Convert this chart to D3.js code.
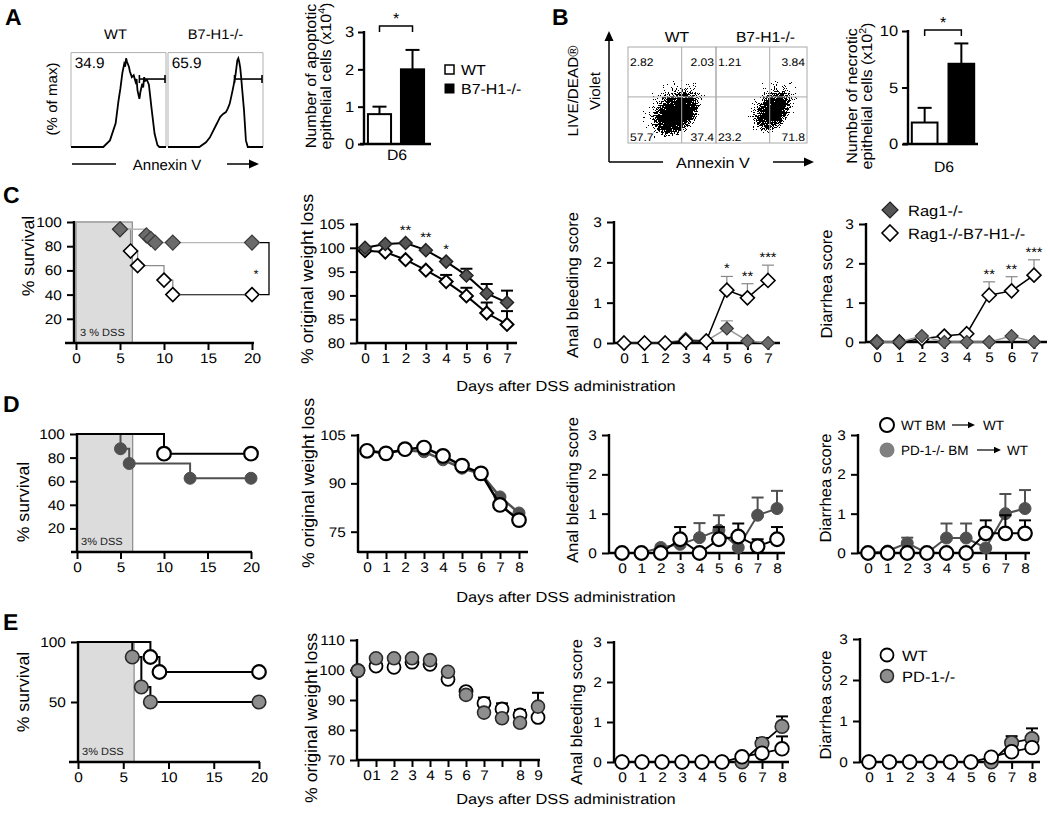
<!DOCTYPE html>
<html><head><meta charset="utf-8">
<script src="https://cdn.jsdelivr.net/npm/d3@7"></script>
<style>body{margin:0;background:#fff} svg{display:block} text{font-family:"Liberation Sans",Arial,Helvetica,sans-serif;text-rendering:geometricPrecision}</style>
</head><body><svg id="c" width="1050" height="817"></svg>
<script>
// ================= DATA =================
// Panel A – Annexin V histograms (position 0-100, % of max)
const histWT = [[0,0],[34,0],[41,7],[47,25],[50,49],[52,62],[54,78],[56,88],[57,85],[58,94],[59,90],[61,85],[62,80],[64,74],[66,76],[68,69],[69,72],[70,60],[72,51],[73,58],[75,67],[76,63],[77,74],[78,70],[80,71],[82,66],[83,57],[85,39],[88,14],[91,2],[93,0],[100,0]];
const histB7 = [[0,0],[33,0],[40,5],[44,10],[47,16],[50,22],[53,28],[55,32],[56,33],[58,35],[61,37],[63,41],[65,46],[68,60],[70,70],[71,76],[73,92],[74,94],[75,90],[76,84],[77,74],[78,62],[80,39],[82,7],[84,0],[100,0]];
const histGroups = ["WT", "B7-H1-/-"];
const histPct = ["34.9", "65.9"];
const gateStart = [72, 70];   // Annexin V gate start
const gateLevel = 72;          // gate drawn at this % of max
// Panel A – apoptotic cells (x10^4)
const barGroups = ["WT", "B7-H1-/-"];
const apoptoticMean = [0.8, 2.0];
const apoptoticUpper = [1.0, 2.52];
const apoptoticTicks = [0, 1, 2, 3];
// Panel B – flow quadrants
const quadWT = ["2.82", "2.03", "57.7", "37.4"];
const quadB7 = ["1.21", "3.84", "23.2", "71.8"];
const quadGate = [[61, 48], [59, 48]];        // [annexin, live/dead] gate per plot
// cell clouds: [annexin, live/dead, spreadX, spreadY, angle, density]
const cloudWT = [[50, 38, 50, 33, 40, 0.5], [55, 31, 30, 19, 42, 0.8], [57, 28, 18, 11, 42, 1]];
const cloudB7 = [[60, 40, 44, 28, 55, 0.5], [63, 34, 25, 15, 55, 0.8], [64, 31, 15, 9, 55, 1]];
// Panel B – necrotic cells (x10^2)
const necroticMean = [1.9, 7.1];
const necroticUpper = [3.2, 8.9];
const necroticTicks = [0, 5, 10];

// Panel C – Rag1-/- vs Rag1-/-B7-H1-/-
const cSurvRag = [[0,100],[5,94],[8,89],[8.5,86],[9,83],[11,83],[20,83]];
const cSurvB7  = [[0,100],[5,94],[6.2,76],[7,64],[10,52],[11,40],[20,40]];
const cDss = 6.4;
const days7 = [0,1,2,3,4,5,6,7];
const cWtRag = [100, 100.8, 101.0, 99.5, 97.1, 94.2, 90.4, 88.5];
const cWtRagErr = [null,null,null,null,null,95.6,92.4,91.0];
const cWtB7 = [99.4, 99.1, 97.5, 95.3, 92.9, 89.9, 86.3, 83.9];
const cWtB7Err = [null,null,null,null,94.3,91.6,88.5,86.7];
const cWtStars = ["","","**","**","*","","",""];
const cAnalRag = [0,0,0,0.1,0.05,0.36,0.05,0];
const cAnalRagErr = [null,null,null,null,null,0.55,null,null];
const cAnalB7 = [0,0,0,0.05,0.05,1.31,1.12,1.55];
const cAnalB7Err = [null,null,null,null,null,1.65,1.47,1.93];
const cAnalStars = ["","","","","","*","**","***"];
const cDiaRag = [0,0,0.15,0,0,0,0.15,0];
const cDiaB7 = [0,0,0.08,0.15,0.21,1.19,1.30,1.70];
const cDiaB7Err = [null,null,null,null,null,1.53,1.66,2.09];
const cDiaStars = ["","","","","","**","**","***"];

// Panel D – WT BM vs PD-1-/- BM -> WT
const dSurvWT = [[0,100],[10,83.3],[20,83.3]];
const dSurvPD = [[0,100],[5,87.5],[6,75],[13,62.5],[20,62.5]];
const dDss = 6.4;
const days8 = [0,1,2,3,4,5,6,7,8];
const dWtWT = [100.1, 99.3, 100.6, 101.1, 98.5, 95.5, 93.1, 83.3, 78.6];
const dWtPD = [100.0, 99.6, 100.3, 99.8, 97.3, 94.7, 93.0, 85.8, 80.8];
const dAnalWT = [0,0,0,0.35,0,0.35,0.42,0.17,0.35];
const dAnalWTErr = [null,null,null,0.66,null,0.66,0.75,0.35,0.66];
const dAnalPD = [0,0,0.14,0.22,0.39,0.58,0.14,0.96,1.13];
const dAnalPDErr = [null,null,null,null,0.76,0.96,null,1.41,1.58];
const dDiaWT = [0,0,0,0,0,0,0.5,0.5,0.5];
const dDiaWTErr = [null,null,null,null,null,null,0.83,0.96,0.83];
const dDiaPD = [0,0.05,0.25,0,0.38,0.38,0.13,1.0,1.13];
const dDiaPDErr = [null,null,0.39,null,0.75,0.75,null,1.5,1.6];

// Panel E – WT vs PD-1-/-
const eSurvWT = [[0,100],[8,87.5],[9,75],[20,75]];
const eSurvPD = [[0,100],[6,87.5],[7,62.5],[8,50],[20,50]];
const eDss = 6.2;
const eWtIdx = [0,1,2,3,4,5,6,7,8,9,10];
const eWtTickLabels = ["0","1","2","3","4","5","6","7","8","9"];
const eWtTickPos = [0.5,1,2,3,4,5,6,7,9,10];
const eWtWT = [99.8, 101.3, 100.9, 102.6, 101.9, 96.9, 92.8, 88.9, 87.0, 85.0, 84.2];
const eWtWTErr = [null,null,null,null,null,null,null,90.8,88.9,86.7,null];
const eWtPD = [99.8, 103.9, 103.9, 103.9, 103.3, 99.4, 91.7, 85.8, 83.9, 82.4, 87.8];
const eWtPDErr = [null,null,null,null,null,null,null,null,null,null,92.4];
const eAnalWT = [0,0,0,0,0,0,0.13,0.22,0.33];
const eAnalWTErr = [null,null,null,null,null,null,null,null,0.64];
const eAnalPD = [0,0,0,0,0,0,0,0.46,0.89];
const eAnalPDErr = [null,null,null,null,null,null,null,0.6,1.14];
const eDiaWT = [0,0,0,0,0,0,0.12,0.25,0.35];
const eDiaPD = [0,0,0,0,0,0,0,0.47,0.57];
const eDiaPDErr = [null,null,null,null,null,null,null,0.63,0.82];

// ================= DRAWING =================
const FONT = '"Liberation Sans", Arial, Helvetica, sans-serif';
const svg = d3.select("#c");
const defs = svg.append("defs");

function txt(g, x, y, s, o = {}) {
  return g.append("text")
    .attr("transform", `translate(${x},${y})${o.rot ? ` rotate(${o.rot})` : ""} scale(${o.sx ?? 1.1},1)`)
    .attr("font-size", o.size ?? 14)
    .attr("text-anchor", o.anchor ?? "start")
    .attr("font-weight", o.weight ?? "normal")
    .attr("fill", o.fill ?? "#000")
    .text(s);
}
function line(g, x1, y1, x2, y2, c = "#000", w = 2) {
  return g.append("line").attr("x1", x1).attr("y1", y1).attr("x2", x2).attr("y2", y2)
    .attr("stroke", c).attr("stroke-width", w);
}
function arrowHead(g, x, y, dir, s = 1) {
  const p = dir === "right" ? `M${x},${y} L${x-10*s},${y-4.5*s} L${x-10*s},${y+4.5*s} Z` : `M${x},${y} L${x-4.5},${y+10} L${x+4.5},${y+10} Z`;
  g.append("path").attr("d", p).attr("fill", "#000");
}
function styleAxis(a, size = 14) {
  a.select(".domain").remove();
  a.selectAll(".tick line").attr("stroke", "#000").attr("stroke-width", 2);
  a.selectAll(".tick text").attr("font-size", size).attr("font-family", FONT).attr("fill", "#000")
    .attr("transform", "scale(1.1,1)");
}
function title(g, x, y, s, size = 16) {
  txt(g, x, y, s, { rot: -90, anchor: "middle", size, sx: 1.04 });
}

function panel(o) {
  const g = svg.append("g");
  const x = d3.scaleLinear().domain(o.xdom).range(o.xr);
  const y = d3.scaleLinear().domain(o.ydom).range(o.yr);
  return { g, x, y, o };
}
function axes(p) {
  const { g, x, y, o } = p;
  const ya = g.append("g").attr("transform", `translate(${o.yx},0)`)
    .call(d3.axisLeft(y).tickValues(o.yTicks).tickSize(7).tickPadding(4).tickSizeOuter(0).tickFormat(d3.format("d")));
  styleAxis(ya);
  const xa = g.append("g").attr("transform", `translate(0,${o.xy})`)
    .call(d3.axisBottom(x).tickValues(o.xTicks).tickSize(7).tickPadding(3).tickSizeOuter(0)
      .tickFormat(o.xFmt || d3.format("d")));
  styleAxis(xa);
  line(g, o.yx, y.range()[1] - 1, o.yx, o.xy + 1, "#000", 2.4);
  line(g, o.xl[0], o.xy, o.xl[1], o.xy, "#000", 2.4);
}
function diamondPath(cx, cy, r) { return `M${cx},${cy-r} L${cx+r},${cy} L${cx},${cy+r} L${cx-r},${cy} Z`; }
function markers(p, pts, m) {
  pts.forEach(([a, b]) => {
    const cx = p.x(a), cy = p.y(b);
    if (m.shape === "diamond") {
      p.g.append("path").attr("d", diamondPath(cx, cy, m.r)).attr("fill", m.fill).attr("stroke", m.stroke).attr("stroke-width", m.sw);
    } else {
      p.g.append("circle").attr("cx", cx).attr("cy", cy).attr("r", m.r).attr("fill", m.fill).attr("stroke", m.stroke).attr("stroke-width", m.sw);
    }
  });
}
function series(p, xs, vals, errs, m) {
  const pts = xs.map((d, i) => [d, vals[i]]);
  if (m.line) p.g.append("path").datum(pts).attr("d", d3.line().x(d => p.x(d[0])).y(d => p.y(d[1])))
    .attr("fill", "none").attr("stroke", m.line).attr("stroke-width", m.lw ?? 2);
  if (errs) errs.forEach((e, i) => {
    if (e == null) return;
    const cx = p.x(xs[i]);
    line(p.g, cx, p.y(vals[i]), cx, p.y(e), m.ec ?? "#000", m.ew ?? 2);
    line(p.g, cx - (m.cap ?? 6), p.y(e), cx + (m.cap ?? 6), p.y(e), m.ec ?? "#000", m.ew ?? 2);
  });
  markers(p, pts, m);
}
function survival(p, pts, m) {
  p.g.append("path").datum(pts).attr("d", d3.line().curve(d3.curveStepAfter).x(d => p.x(d[0])).y(d => p.y(d[1])))
    .attr("fill", "none").attr("stroke", m.line).attr("stroke-width", m.lw ?? 2);
  markers(p, pts.slice(1), m);
}
function dssBox(p, dss, label) {
  p.g.append("rect").attr("x", p.x(0)).attr("y", p.y(100)).attr("width", p.x(dss) - p.x(0))
    .attr("height", p.y(0) - p.y(100)).attr("fill", "#dcdcdc").attr("stroke", "#8a8a8a").attr("stroke-width", 1.2);
  txt(p.g, p.x(0) + 4, p.y(0) - 7, label, { size: 10.5, sx: 1.05, fill: "#222" });
}
function stars(p, xs, labels, topVals, off, size = 14) {
  labels.forEach((s, i) => { if (s) txt(p.g, p.x(xs[i]), p.y(topVals[i]) - off, s, { anchor: "middle", size, sx: 1.05 }); });
}
const maxOf = (...arrs) => arrs[0].map((_, i) => Math.max(...arrs.map(a => a[i] ?? -Infinity)));
const rowTitle = (y) => txt(svg, 566, y, "Days after DSS administration", { anchor: "middle", size: 14.5, sx: 1.13 });

// ---------- Panel letters ----------
[["A", 5, 25], ["B", 552, 25], ["C", 3, 203], ["D", 3, 412], ["E", 3, 630]].forEach(([l, x, y]) =>
  txt(svg, x, y, l, { size: 23, weight: "bold", sx: 1 }));

// ---------- Panel A histograms ----------
{
  const g = svg.append("g");
  const boxes = [[71, 166], [168, 263]];
  const hy = d3.scaleLinear().domain([0, 100]).range([147, 52.6]);
  [histWT, histB7].forEach((h, k) => {
    const hx = d3.scaleLinear().domain([0, 100]).range(boxes[k]);
    g.append("path").attr("d", `M${hx(0)},${hy(0)} V${hy(100)} H${hx(100)} V${hy(0)}`).attr("fill", "none").attr("stroke", "#b0b0b0").attr("stroke-width", 1);
    g.append("path").datum(h).attr("d", d3.line().x(d => hx(d[0])).y(d => hy(d[1]))).attr("fill", "none").attr("stroke", "#000").attr("stroke-width", 1.8);
    const gx0 = hx(gateStart[k]), gx1 = hx(100) - 1, gy = hy(gateLevel);
    line(g, gx0, gy, gx1, gy, "#000", 1.6);
    line(g, gx0, gy - 4, gx0, gy + 4, "#000", 1.6);
    line(g, gx1, gy - 4, gx1, gy + 4, "#000", 1.6);
    txt(g, hx(4), 68, histPct[k], { size: 15, sx: 1.02 });
    txt(g, (boxes[k][0] + boxes[k][1]) / 2 + (k ? 0 : -3), 39, histGroups[k], { anchor: "middle", size: 14, sx: 1.05 });
  });
  title(g, 57, 99, "(% of max)", 14.5);
  line(g, 72, 164, 116, 164, "#000", 1.5);
  txt(g, 167, 170, "Annexin V", { anchor: "middle", size: 15, sx: 1.0 });
  line(g, 227, 164, 250, 164, "#000", 1.5);
  arrowHead(g, 259, 164, "right");
}

// ---------- bar chart helper ----------
function barChart(o) {
  const g = svg.append("g");
  const x = d3.scaleBand().domain(barGroups).range(o.xr).paddingInner(0.3).paddingOuter(0.24);
  const y = d3.scaleLinear().domain(o.ydom).range([o.y0, o.y1]);
  const ya = g.append("g").attr("transform", `translate(${o.yx},0)`)
    .call(d3.axisLeft(y).tickValues(o.ticks).tickSize(6).tickPadding(3).tickSizeOuter(0).tickFormat(d3.format("d")));
  styleAxis(ya, 15);
  barGroups.forEach((grp, i) => {
    const cx = x(grp) + x.bandwidth() / 2;
    line(g, cx, y(o.mean[i]), cx, y(o.upper[i]), "#000", 2);
    line(g, cx - 7, y(o.upper[i]), cx + 7, y(o.upper[i]), "#000", 2);
    g.append("rect").attr("x", x(grp)).attr("y", y(o.mean[i])).attr("width", x.bandwidth())
      .attr("height", y(0) - y(o.mean[i])).attr("fill", i ? "#000" : "#fff").attr("stroke", "#000").attr("stroke-width", 2);
  });
  line(g, o.yx, y(o.ydom[1]) - 1, o.yx, o.y0 + 1, "#000", 2.4);
  line(g, o.xl[0], o.y0, o.xl[1], o.y0, "#000", 2.4);
  const c0 = x(barGroups[0]) + x.bandwidth() / 2, c1 = x(barGroups[1]) + x.bandwidth() / 2;
  g.append("path").attr("d", `M${c0},${o.brY + 6} V${o.brY} H${c1} V${o.brY + 6}`).attr("fill", "none").attr("stroke", "#000").attr("stroke-width", 1.5);
  txt(g, (c0 + c1) / 2, o.brY - 2, "*", { anchor: "middle", size: 16, sx: 1 });
  txt(g, (c0 + c1) / 2 + 1, o.d6Y, "D6", { anchor: "middle", size: 15, sx: 1.05 });
  txt(g, o.tx1, o.tcy, o.t1, { rot: -90, anchor: "middle", size: 15, sx: 1.07 });
  const t2 = txt(g, o.tx2, o.tcy, "", { rot: -90, anchor: "middle", size: 15, sx: 1.07 });
  t2.append("tspan").text(o.t2);
  t2.append("tspan").attr("font-size", 10).attr("dy", -6).text(o.sup);
  t2.append("tspan").attr("dy", 6).text(")");
  return g;
}
barChart({ xr: [360, 432], ydom: [0, 3], y0: 144, y1: 32, yx: 364, ticks: apoptoticTicks, mean: apoptoticMean, upper: apoptoticUpper,
  xl: [360, 431], brY: 26, d6Y: 160, tx1: 316, tx2: 331, tcy: 76, t1: "Number of apoptotic", t2: "epithelial cells (x10", sup: "4" });
{
  const g = svg.append("g");
  g.append("rect").attr("x", 445).attr("y", 65).attr("width", 9).attr("height", 9).attr("fill", "#fff").attr("stroke", "#000").attr("stroke-width", 1.5);
  txt(g, 461, 75, barGroups[0], { size: 14.5, sx: 1.1 });
  g.append("rect").attr("x", 444.5).attr("y", 83.5).attr("width", 10).attr("height", 10).attr("fill", "#000");
  txt(g, 461, 94, barGroups[1], { size: 14.5, sx: 1.1 });
}

// ---------- Panel B flow plots ----------
{
  const g = svg.append("g");
  const f = defs.append("filter").attr("id", "speckle").attr("filterUnits", "userSpaceOnUse").attr("primitiveUnits", "userSpaceOnUse")
    .attr("x", 600).attr("y", 30).attr("width", 230).attr("height", 130).attr("color-interpolation-filters", "sRGB");
  f.append("feGaussianBlur").attr("in", "SourceAlpha").attr("stdDeviation", 5.5).attr("result", "dens");
  f.append("feTurbulence").attr("type", "fractalNoise").attr("baseFrequency", 0.9).attr("numOctaves", 2).attr("seed", 7).attr("result", "noise");
  f.append("feColorMatrix").attr("in", "noise").attr("type", "matrix").attr("values", "0 0 0 0 0 0 0 0 0 0 0 0 0 0 0 1 0 0 0 0").attr("result", "na");
  f.append("feComposite").attr("in", "dens").attr("in2", "na").attr("operator", "arithmetic")
    .attr("k1", 0).attr("k2", 1.2).attr("k3", 1.15).attr("k4", -0.92).attr("result", "sum");
  f.append("feComponentTransfer").attr("in", "sum").append("feFuncA").attr("type", "discrete").attr("tableValues", "0 1");

  const boxes = [[628, 716], [716, 807]];
  const by = d3.scaleLinear().domain([0, 100]).range([143, 47]);
  const labels = [quadWT, quadB7];
  const clouds = [cloudWT, cloudB7];
  boxes.forEach((b, k) => {
    const bx = d3.scaleLinear().domain([0, 100]).range(b);
    const cid = "clipB" + k;
    defs.append("clipPath").attr("id", cid).append("rect").attr("x", b[0]).attr("y", 47).attr("width", b[1] - b[0]).attr("height", 96);
    const cg = g.append("g").attr("clip-path", `url(#${cid})`).append("g").attr("filter", "url(#speckle)");
    clouds[k].forEach(([cx, cy, sx, sy, ang, dn]) => {
      cg.append("ellipse").attr("cx", 0).attr("cy", 0).attr("rx", bx(sx) - bx(0)).attr("ry", by(0) - by(sy))
        .attr("transform", `translate(${bx(cx)},${by(cy)}) rotate(${-ang})`).attr("fill", "#000").attr("fill-opacity", dn);
    });
    g.append("rect").attr("x", b[0]).attr("y", 47).attr("width", b[1] - b[0]).attr("height", 96).attr("fill", "none").attr("stroke", "#aaa").attr("stroke-width", 1);
    line(g, bx(quadGate[k][0]), 47, bx(quadGate[k][0]), 143, "#aaa", 1);
    line(g, b[0], by(quadGate[k][1]), b[1], by(quadGate[k][1]), "#aaa", 1);
    const L = labels[k];
    txt(g, b[0] + 2, 66, L[0], { size: 11, sx: 1.1 });
    txt(g, b[1] - 2, 66, L[1], { size: 11, sx: 1.1, anchor: "end" });
    txt(g, b[0] + 2, 141, L[2], { size: 11, sx: 1.1 }).attr("stroke", "#fff").attr("stroke-width", 2.5).attr("paint-order", "stroke");
    txt(g, b[1] - 2, 141, L[3], { size: 11, sx: 1.1, anchor: "end" }).attr("stroke", "#fff").attr("stroke-width", 2.5).attr("paint-order", "stroke");
    txt(g, (b[0] + b[1]) / 2 + (k ? 4 : 5), 42, histGroups[k], { anchor: "middle", size: 14.5, sx: 1.08 });
  });
  line(g, 609, 162, 609, 40, "#000", 1.5);
  arrowHead(g, 609, 31, "up");
  line(g, 609, 162, 663, 162, "#000", 1.5);
  txt(g, 713, 168, "Annexin V", { anchor: "middle", size: 15, sx: 1.08 });
  line(g, 773, 162, 805, 162, "#000", 1.5);
  arrowHead(g, 814, 162, "right");
  txt(g, 578, 91, "LIVE/DEAD®", { rot: -90, anchor: "middle", size: 14.5, sx: 1.05 });
  txt(g, 600, 91, "Violet", { rot: -90, anchor: "middle", size: 14.5, sx: 1.05 });
}
barChart({ xr: [903, 983], ydom: [0, 10], y0: 144, y1: 31, yx: 908, ticks: necroticTicks, mean: necroticMean, upper: necroticUpper,
  xl: [903, 978], brY: 30, d6Y: 172, tx1: 857, tx2: 872, tcy: 96, t1: "Number of necrotic", t2: "epithelial cells (x10", sup: "2" });

// ---------- Panel C ----------
const RAG = { shape: "diamond", r: 6.5, fill: "#6b6b6b", stroke: "#3a3a3a", sw: 1.2 };
const RAGB7 = { shape: "diamond", r: 6.5, fill: "#fff", stroke: "#000", sw: 1.6 };
{
  const p = panel({ xdom: [0, 20], xr: [76, 252], ydom: [0, 100], yr: [343, 222], yx: 74, xy: 343, xl: [65, 254], yTicks: [20, 40, 60, 80, 100], xTicks: [0, 5, 10, 15, 20] });
  dssBox(p, cDss, "3 % DSS");
  survival(p, cSurvB7, { ...RAGB7, line: "#8c8c8c", lw: 1.3, r: 7 });
  survival(p, cSurvRag, { ...RAG, line: "#b5b5b5", lw: 1.3, r: 7.5 });
  const l7 = cSurvB7[cSurvB7.length - 1], l6 = cSurvB7[cSurvB7.length - 2];
  line(p.g, p.x(l6[0]) + 7, p.y(l6[1]), p.x(l7[0]) - 7, p.y(l7[1]), "#444", 1.4);
  axes(p);
  const yA = p.y(cSurvRag[cSurvRag.length - 1][1]), yB = p.y(cSurvB7[cSurvB7.length - 1][1]);
  p.g.append("path").attr("d", `M260,${yA} H269 V${yB} H260`).attr("fill", "none").attr("stroke", "#000").attr("stroke-width", 1.3);
  txt(p.g, 256, (yA + yB) / 2 + 9, "*", { anchor: "middle", size: 12, sx: 1 });
  title(p.g, 34, 256, "% survival", 17);
}
{
  const p = panel({ xdom: [0, 7], xr: [365, 507], ydom: [80, 105], yr: [343, 224], yx: 357, xy: 343, xl: [357, 517], yTicks: [80, 85, 90, 95, 100, 105], xTicks: days7 });
  series(p, days7, cWtB7, cWtB7Err, { ...RAGB7, line: "#000", lw: 2, r: 6.5, sw: 2 });
  series(p, days7, cWtRag, cWtRagErr, { ...RAG, fill: "#555", stroke: "#222", line: "#000", lw: 2, r: 6.5, sw: 1.5 });
  stars(p, days7, cWtStars, maxOf(cWtRag, cWtB7), 8);
  axes(p);
  title(p.g, 313, 279, "% original weight loss", 17);
}
{
  const p = panel({ xdom: [0, 7], xr: [624, 768], ydom: [0, 3], yr: [343, 222], yx: 614, xy: 343, xl: [614, 780], yTicks: [0, 1, 2, 3], xTicks: days7 });
  axes(p);
  series(p, days7, cAnalRag, cAnalRagErr, { ...RAG, line: "#999", lw: 1.5, ec: "#999", ew: 1.2, r: 6.5 });
  series(p, days7, cAnalB7, cAnalB7Err, { ...RAGB7, line: "#000", lw: 1.5, ec: "#888", ew: 1.2, r: 7, sw: 1.6 });
  stars(p, days7, cAnalStars, maxOf(cAnalB7Err, cAnalB7), 3);
  title(p.g, 578, 285, "Anal bleeding score");
}
{
  const p = panel({ xdom: [0, 7], xr: [877, 1034], ydom: [0, 3], yr: [342, 224], yx: 866, xy: 342, xl: [866, 1047], yTicks: [0, 1, 2, 3], xTicks: days7 });
  axes(p);
  series(p, days7, cDiaB7, cDiaB7Err, { ...RAGB7, line: "#000", lw: 1.5, ec: "#888", ew: 1.2, r: 7, sw: 1.6 });
  series(p, days7, cDiaRag, null, { ...RAG, line: "#999", lw: 1.5, r: 6.5 });
  stars(p, days7, cDiaStars, maxOf(cDiaB7Err, cDiaB7), 3);
  title(p.g, 832, 284, "Diarrhea score");
  const g = p.g;
  g.append("path").attr("d", diamondPath(890, 210, 8)).attr("fill", "#555").attr("stroke", "#222").attr("stroke-width", 1.2);
  txt(g, 908, 216, "Rag1-/-", { size: 15, sx: 1.1 });
  g.append("path").attr("d", diamondPath(890, 233, 8)).attr("fill", "#fff").attr("stroke", "#000").attr("stroke-width", 1.6);
  txt(g, 908, 239, "Rag1-/-B7-H1-/-", { size: 15, sx: 1.1 });
}
rowTitle(391);

// ---------- Panel D ----------
const WTC = { shape: "circle", r: 6.8, fill: "#fff", stroke: "#000", sw: 2.2 };
const PDD = { shape: "circle", r: 6, fill: "#505050", stroke: "#505050", sw: 1 };
{
  const p = panel({ xdom: [0, 20], xr: [77, 251], ydom: [0, 100], yr: [552, 434], yx: 77, xy: 552, xl: [71, 252], yTicks: [20, 40, 60, 80, 100], xTicks: [0, 5, 10, 15, 20] });
  dssBox(p, dDss, "3% DSS");
  survival(p, dSurvPD, { ...PDD, line: "#505050", lw: 2 });
  survival(p, dSurvWT, { ...WTC, line: "#000", lw: 2 });
  axes(p);
  title(p.g, 29, 502, "% survival", 17);
}
{
  const p = panel({ xdom: [0, 8], xr: [367, 519], ydom: [75, 105], yr: [531.7, 435], yx: 358, xy: 552, xl: [358, 528], yTicks: [75, 90, 105], xTicks: days8 });
  axes(p);
  series(p, days8, dWtPD, null, { ...PDD, line: "#505050", lw: 2.5 });
  series(p, days8, dWtWT, null, { ...WTC, line: "#000", lw: 2.5 });
  title(p.g, 314, 483, "% original weight loss", 17);
}
{
  const p = panel({ xdom: [0, 8], xr: [622, 777], ydom: [0, 3], yr: [553, 435], yx: 609, xy: 553, xl: [609, 785], yTicks: [0, 1, 2, 3], xTicks: days8 });
  axes(p);
  series(p, days8, dAnalPD, dAnalPDErr, { ...PDD, line: "#505050", lw: 2, ec: "#505050", ew: 2 });
  series(p, days8, dAnalWT, dAnalWTErr, { ...WTC, line: "#000", lw: 2, ec: "#000", ew: 2 });
  title(p.g, 578, 490, "Anal bleeding score");
}
{
  const p = panel({ xdom: [0, 8], xr: [868, 1025], ydom: [0, 3], yr: [553, 435], yx: 858, xy: 553, xl: [858, 1030], yTicks: [0, 1, 2, 3], xTicks: days8 });
  axes(p);
  series(p, days8, dDiaPD, dDiaPDErr, { ...PDD, line: "#505050", lw: 2, ec: "#505050", ew: 2 });
  series(p, days8, dDiaWT, dDiaWTErr, { ...WTC, line: "#000", lw: 2, ec: "#000", ew: 2 });
  title(p.g, 831, 488, "Diarrhea score");
  const g = p.g;
  g.append("circle").attr("cx", 887).attr("cy", 425).attr("r", 7).attr("fill", "#fff").attr("stroke", "#000").attr("stroke-width", 2);
  txt(g, 901, 430, "WT BM", { size: 13.5, sx: 1.0 });
  line(g, 952, 425, 970, 425, "#000", 1.2); arrowHead(g, 975, 425, "right", 0.7);
  txt(g, 983, 430, "WT", { size: 13.5, sx: 1.0 });
  g.append("circle").attr("cx", 887).attr("cy", 450).attr("r", 7.5).attr("fill", "#808080");
  txt(g, 901, 455, "PD-1-/- BM", { size: 13.5, sx: 1.0 });
  line(g, 977, 450, 995, 450, "#000", 1.2); arrowHead(g, 1001, 450, "right", 0.7);
  txt(g, 1007, 455, "WT", { size: 13.5, sx: 1.0 });
}
rowTitle(602);

// ---------- Panel E ----------
const PDE = { shape: "circle", r: 6.8, fill: "#8e8e8e", stroke: "#2a2a2a", sw: 1.6 };
{
  const p = panel({ xdom: [0, 20], xr: [78, 259], ydom: [0, 100], yr: [762, 642], yx: 78, xy: 762, xl: [69, 260], yTicks: [50, 100], xTicks: [0, 5, 10, 15, 20] });
  dssBox(p, eDss, "3% DSS");
  survival(p, eSurvPD, { ...PDE, line: "#000", lw: 2 });
  survival(p, eSurvWT, { ...WTC, line: "#000", lw: 2 });
  axes(p);
  title(p.g, 29, 692, "% survival", 17);
}
{
  const p = panel({ xdom: [0, 10], xr: [358, 538], ydom: [70, 110], yr: [760, 640], yx: 357, xy: 760, xl: [357, 540], yTicks: [70, 80, 90, 100, 110], xTicks: eWtIdx, xFmt: () => "" });
  axes(p);
  const la = p.g.append("g").attr("transform", "translate(0,760)")
    .call(d3.axisBottom(p.x).tickValues(eWtTickPos).tickSize(0).tickPadding(10).tickFormat((d, i) => eWtTickLabels[i]));
  styleAxis(la);
  series(p, eWtIdx, eWtWT, eWtWTErr, { ...WTC, sw: 1.8, r: 6.5 });
  series(p, eWtIdx, eWtPD, eWtPDErr, { ...PDE, r: 6.5 });
  title(p.g, 317, 718, "% original weight loss", 17);
}
{
  const p = panel({ xdom: [0, 8], xr: [622, 782], ydom: [0, 3], yr: [762, 642], yx: 614, xy: 762, xl: [614, 789], yTicks: [0, 1, 2, 3], xTicks: days8 });
  axes(p);
  series(p, days8, eAnalPD, eAnalPDErr, { ...PDE, line: "#000", lw: 1.8 });
  series(p, days8, eAnalWT, eAnalWTErr, { ...WTC, sw: 1.8, line: "#000", lw: 1.8 });
  title(p.g, 582, 712, "Anal bleeding score");
}
{
  const p = panel({ xdom: [0, 8], xr: [869, 1032], ydom: [0, 3], yr: [762, 639], yx: 860, xy: 762, xl: [860, 1040], yTicks: [0, 1, 2, 3], xTicks: days8 });
  axes(p);
  series(p, days8, eDiaPD, eDiaPDErr, { ...PDE, line: "#000", lw: 1.8 });
  series(p, days8, eDiaWT, null, { ...WTC, sw: 1.8, line: "#000", lw: 1.8 });
  title(p.g, 831, 705, "Diarrhea score");
  const g = p.g;
  g.append("circle").attr("cx", 887).attr("cy", 655).attr("r", 6.5).attr("fill", "#fff").attr("stroke", "#000").attr("stroke-width", 1.8);
  txt(g, 902, 661, "WT", { size: 15, sx: 1.1 });
  g.append("circle").attr("cx", 887).attr("cy", 676).attr("r", 6.5).attr("fill", "#8e8e8e").attr("stroke", "#2a2a2a").attr("stroke-width", 1.6);
  txt(g, 902, 682, "PD-1-/-", { size: 15, sx: 1.1 });
}
rowTitle(804);
</script></body></html>
